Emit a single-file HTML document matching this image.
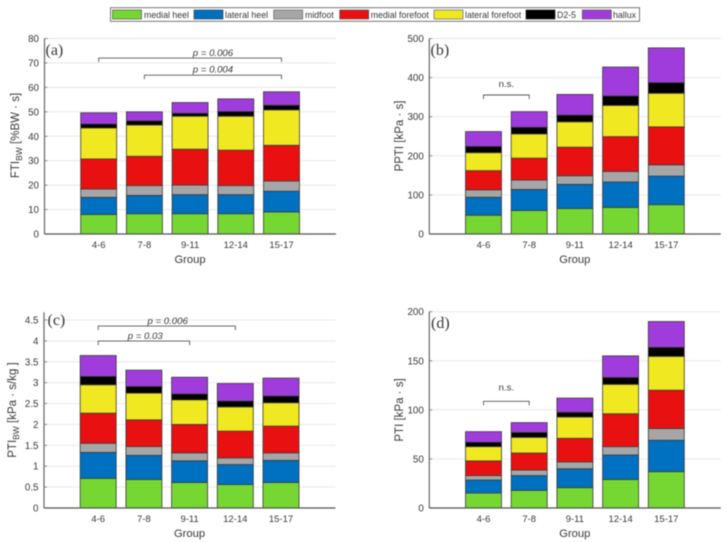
<!DOCTYPE html>
<html lang="en">
<head>
<meta charset="utf-8">
<title>Stacked foot-region pressure charts</title>
<style>
html,body{margin:0;padding:0;background:#fff;width:727px;height:542px;overflow:hidden}
svg{display:block;filter:blur(0.45px)}
text{font-family:"Liberation Sans",sans-serif;fill:#383838}
</style>
</head>
<body>
<svg id="fig" xmlns="http://www.w3.org/2000/svg" width="727" height="542" viewBox="0 0 727 542">
  <rect x="0" y="0" width="727" height="542" fill="#fff"/>
  <g>
    <rect x="110.5" y="7.7" width="529" height="13.6" fill="#fff" stroke="#555" stroke-width="0.8"/>
    <g><rect x="112.5" y="10" width="29" height="9" fill="#76d733" stroke="#555" stroke-width="0.7"/><text x="144" y="18" font-size="8.8">medial heel</text></g>
    <g><rect x="194" y="10" width="29" height="9" fill="#0070c0" stroke="#444" stroke-width="0.7"/><text x="225" y="18" font-size="8.8">lateral heel</text></g>
    <g><rect x="273.7" y="10" width="29" height="9" fill="#a6a6a6" stroke="#666" stroke-width="0.7"/><text x="305" y="18" font-size="8.8">midfoot</text></g>
    <g><rect x="339.7" y="10" width="29" height="9" fill="#e81010" stroke="#555" stroke-width="0.7"/><text x="370.7" y="18" font-size="8.8">medial forefoot</text></g>
    <g><rect x="434" y="10" width="29" height="9" fill="#f0e820" stroke="#666" stroke-width="0.7"/><text x="465" y="18" font-size="8.8">lateral forefoot</text></g>
    <g><rect x="526" y="10" width="29" height="9" fill="#000" stroke="#222" stroke-width="0.7"/><text x="557" y="18" font-size="8.8">D2-5</text></g>
    <g><rect x="582.3" y="10" width="29" height="9" fill="#a03cdc" stroke="#555" stroke-width="0.7"/><text x="613" y="18" font-size="8.8">hallux</text></g>
  </g>
</svg>
<script>
const categories = ['4-6', '7-8', '9-11', '12-14', '15-17'];
const seriesNames = ['medial heel', 'lateral heel', 'midfoot', 'medial forefoot', 'lateral forefoot', 'D2-5', 'hallux'];
const seriesColors = ['#76d733', '#0070c0', '#a6a6a6', '#e81010', '#f0e820', '#000000', '#a03cdc'];

const aMedialHeel = [8, 8.3, 8.3, 8.3, 9];
const aLateralHeel = [7, 7.5, 7.8, 7.8, 8.5];
const aMidfoot = [3.4, 4, 3.9, 3.7, 4.2];
const aMedialForefoot = [12.3, 12, 14.7, 14.5, 14.6];
const aLateralForefoot = [12.7, 12.8, 13.5, 13.9, 14.5];
const aD25 = [1.6, 1.7, 1.2, 1.9, 1.9];
const aHallux = [4.6, 3.7, 4.4, 5.2, 5.5];
const aTicks = [0, 10, 20, 30, 40, 50, 60, 70, 80];

const bMedialHeel = [48, 60, 65, 68, 75];
const bLateralHeel = [46, 54, 62, 65, 73];
const bMidfoot = [19, 24, 22, 27, 29];
const bMedialForefoot = [49, 56, 73, 89, 97];
const bLateralForefoot = [46, 62, 65, 80, 86];
const bD25 = [16, 17, 17, 24, 27];
const bHallux = [38, 40, 53, 74, 89];
const bTicks = [0, 100, 200, 300, 400, 500];

const cMedialHeel = [0.71, 0.68, 0.61, 0.56, 0.61];
const cLateralHeel = [0.62, 0.58, 0.52, 0.48, 0.53];
const cMidfoot = [0.22, 0.21, 0.19, 0.16, 0.18];
const cMedialForefoot = [0.72, 0.64, 0.68, 0.64, 0.64];
const cLateralForefoot = [0.68, 0.64, 0.59, 0.58, 0.56];
const cD25 = [0.20, 0.16, 0.14, 0.14, 0.16];
const cHallux = [0.50, 0.39, 0.40, 0.42, 0.43];
const cTicks = [0, 0.5, 1, 1.5, 2, 2.5, 3, 3.5, 4, 4.5];

const dMedialHeel = [15.3, 18, 20.7, 29, 37];
const dLateralHeel = [13.2, 15, 19.3, 25, 32];
const dMidfoot = [4.5, 5.7, 7, 8.5, 12];
const dMedialForefoot = [15, 17.3, 24, 33.5, 39];
const dLateralForefoot = [14.5, 16, 21.7, 30, 34.5];
const dD25 = [4.5, 5, 4.8, 7, 9.2];
const dHallux = [10.8, 10, 14.5, 22, 26.3];
const dTicks = [0, 50, 100, 150, 200];

const aBrackets = [
  { from: 1, to: 5, at: 72, label: 'p = 0.006', labelPos: 3.5, labelAt: 72.8, italic: true },
  { from: 2, to: 5, at: 65, label: 'p = 0.004', labelPos: 3.5, labelAt: 66, italic: true }
];
const bBrackets = [
  { from: 1, to: 2, at: 355.5, label: 'n.s.', labelPos: 1.5, labelAt: 376, italic: false }
];
const cBrackets = [
  { from: 1, to: 4, at: 4.354, label: 'p = 0.006', labelPos: 2.52, labelAt: 4.41, italic: true },
  { from: 1, to: 3, at: 3.995, label: 'p = 0.03', labelPos: 2.03, labelAt: 4.04, italic: true }
];
const dBrackets = [
  { from: 1, to: 2, at: 108.7, label: 'n.s.', labelPos: 1.5, labelAt: 119.5, italic: false }
];

const SVG_NS = 'http://www.w3.org/2000/svg';
const fig = document.getElementById('fig');

function make(parent, tag, attrs, txt) {
  const el = document.createElementNS(SVG_NS, tag);
  for (const k in attrs) el.setAttribute(k, attrs[k]);
  if (txt !== undefined) el.textContent = txt;
  parent.appendChild(el);
  return el;
}

function drawPanel(p) {
  const g = make(fig, 'g', {});
  
  

  const xScale = c => p.left + 54.2 + (c - 1) * 45.7;
  const yScale = v => p.y0 - v * p.pxPerUnit;
  const right = p.left + 291.5;

  p.ticks.forEach(t => {
    const y = yScale(t);
    if (t !== 0) {
      const grid = make(g, 'line', { x1: p.left, x2: right, y1: y, y2: y, stroke: '#e6e6e6', 'stroke-width': 0.9 });
      
      
    }
    const tick = make(g, 'line', { x1: p.left, x2: p.left + 3, y1: y, y2: y, stroke: '#666', 'stroke-width': 0.7 });
    
    
    const lab = make(g, 'text', { x: p.left - 5.5, y: y + 3.5, 'font-size': 9.8, 'text-anchor': 'end' }, String(t));
    
    
  });

  categories.forEach((name, i) => {
    const cx = xScale(i + 1);
    let cum = 0;
    p.series.forEach((vals, s) => {
      const top = yScale(cum + vals[i]);
      const bottom = yScale(cum);
      const bar = make(g, 'rect', {
        x: cx - 18, y: top, width: 36, height: bottom - top,
        fill: seriesColors[s], stroke: '#3a3a3a', 'stroke-width': 0.8
      });
      
      
      cum += vals[i];
    });
    const lab = make(g, 'text', { x: cx, y: p.y0 + 14, 'font-size': 9.5, 'text-anchor': 'middle' }, name);
    
    
  });

  const yAxis = make(g, 'line', { x1: p.left, x2: p.left, y1: p.top, y2: p.y0, stroke: '#666', 'stroke-width': 1.2 });
  
  
  const xAxis = make(g, 'line', { x1: p.left, x2: right, y1: p.y0, y2: p.y0, stroke: '#555', 'stroke-width': 1.2 });
  
  

  const xTitle = make(g, 'text', { x: p.left + 145.5, y: p.y0 + 29, 'font-size': 11.2, 'text-anchor': 'middle' }, 'Group');
  
  

  const yTitle = make(g, 'text', {
    x: 0, y: 0, 'font-size': 11.5, 'text-anchor': 'middle',
    transform: 'translate(' + p.titleX + ' ' + p.titleY + ') rotate(-90)'
  });
  
  
  make(yTitle, 'tspan', {}, p.titleA);
  if (p.titleSub) {
    make(yTitle, 'tspan', { dy: 3, 'font-size': 8.5 }, p.titleSub);
    make(yTitle, 'tspan', { dy: -3 }, p.titleB);
  }

  const letter = make(g, 'text', { x: p.letterX, y: p.letterY, 'font-size': 16 }, p.letter);
  letter.style.fontFamily = '"Liberation Serif",serif';
  
  

  p.brackets.forEach(b => {
    const x1 = xScale(b.from), x2 = xScale(b.to), y = yScale(b.at);
    const path = make(g, 'path', {
      d: 'M' + x1 + ' ' + (y + 4) + 'V' + y + 'H' + x2 + 'V' + (y + 4),
      fill: 'none', stroke: '#555', 'stroke-width': 0.9
    });
    
    
    const lab = make(g, 'text', {
      x: xScale(b.labelPos), y: yScale(b.labelAt), 'font-size': 9.6, 'text-anchor': 'middle',
      'font-style': b.italic ? 'italic' : 'normal'
    }, b.label);
    
    
  });
}

drawPanel({
  id: 'a', letter: '(a)', left: 44.5, top: 38.5, y0: 234, pxPerUnit: 195.5 / 80, ticks: aTicks,
  series: [aMedialHeel, aLateralHeel, aMidfoot, aMedialForefoot, aLateralForefoot, aD25, aHallux],
  brackets: aBrackets, titleA: 'FTI', titleSub: 'BW', titleB: ' [%BW · s]',
  titleX: 19, titleY: 135.5, letterX: 45.5, letterY: 55
});
drawPanel({
  id: 'b', letter: '(b)', left: 429.3, top: 38.5, y0: 234, pxPerUnit: 195.5 / 500, ticks: bTicks,
  series: [bMedialHeel, bLateralHeel, bMidfoot, bMedialForefoot, bLateralForefoot, bD25, bHallux],
  brackets: bBrackets, titleA: 'PPTI [kPa · s]',
  titleX: 403, titleY: 136, letterX: 430.5, letterY: 55
});
drawPanel({
  id: 'c', letter: '(c)', left: 44, top: 312.3, y0: 508, pxPerUnit: 188 / 4.5, ticks: cTicks,
  series: [cMedialHeel, cLateralHeel, cMidfoot, cMedialForefoot, cLateralForefoot, cD25, cHallux],
  brackets: cBrackets, titleA: 'PTI', titleSub: 'BW', titleB: ' [kPa · s/kg ]',
  titleX: 16, titleY: 410, letterX: 47.5, letterY: 325
});
drawPanel({
  id: 'd', letter: '(d)', left: 429.3, top: 311.7, y0: 508, pxPerUnit: 196.3 / 200, ticks: dTicks,
  series: [dMedialHeel, dLateralHeel, dMidfoot, dMedialForefoot, dLateralForefoot, dD25, dHallux],
  brackets: dBrackets, titleA: 'PTI [kPa · s]',
  titleX: 403, titleY: 410, letterX: 431, letterY: 328
});
</script>
</body>
</html>
